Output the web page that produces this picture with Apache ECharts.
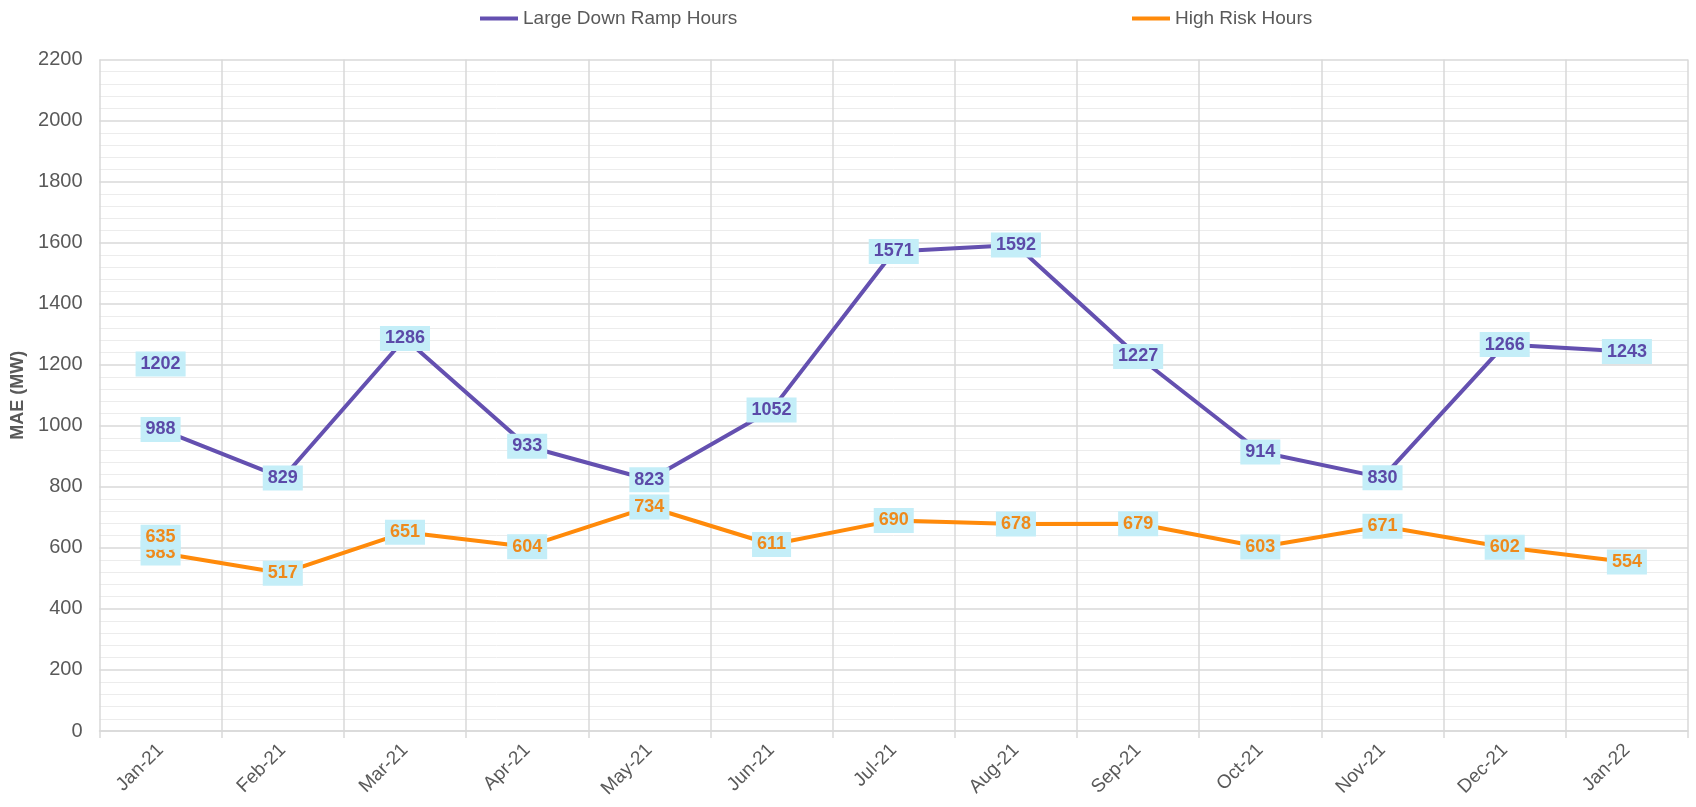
<!DOCTYPE html>
<html>
<head>
<meta charset="utf-8">
<script src="https://cdn.jsdelivr.net/npm/echarts@6/dist/echarts.min.js"></script>
<style>
  html, body { margin: 0; padding: 0; background: #fff; }
  #chart { width: 1696px; height: 807px; }
</style>
</head>
<body>
<div id="chart"></div>
<script>
  // categories and values
  const months = ['Jan-21', 'Feb-21', 'Mar-21', 'Apr-21', 'May-21', 'Jun-21', 'Jul-21',
    'Aug-21', 'Sep-21', 'Oct-21', 'Nov-21', 'Dec-21', 'Jan-22'];
  const largeDownRamp = [988, 829, 1286, 933, 823, 1052, 1571, 1592, 1227, 914, 830, 1266, 1243];
  const highRisk = [583, 517, 651, 604, 734, 611, 690, 678, 679, 603, 671, 602, 554];
  // stray labels that sit at Jan-21 without a line
  const strayPurple = [1202];
  const strayOrange = [635];
  const yTicks = { min: 0, max: 2200, interval: 200 };

  const purple = '#6450B0';
  const orange = '#FF8A0A';
  const labelBg = '#C4EEF8';
  const font = 'Liberation Sans, Arial, sans-serif';

  function valueLabel(color) {
    return {
      show: true,
      position: 'inside',
      color: color,
      fontFamily: font,
      fontWeight: 'bold',
      fontSize: 18,
      backgroundColor: labelBg,
      padding: [4, 5, 3, 5]
    };
  }

  const chart = echarts.init(document.getElementById('chart'));
  const option = {
    animation: false,
    textStyle: { fontFamily: font },
    legend: [
      {
        left: 475, top: 4,
        data: ['Large Down Ramp Hours'],
        icon: 'rect', itemWidth: 38, itemHeight: 4, itemGap: 5,
        textStyle: { fontSize: 19, color: '#595959', fontFamily: font }
      },
      {
        left: 1127, top: 4,
        data: ['High Risk Hours'],
        icon: 'rect', itemWidth: 38, itemHeight: 4, itemGap: 5,
        textStyle: { fontSize: 19, color: '#595959', fontFamily: font }
      }
    ],
    grid: { left: 99.5, right: 8, top: 59.5, bottom: 76 },
    xAxis: {
      type: 'category',
      data: months,
      boundaryGap: true,
      axisLine: { lineStyle: { color: '#d9d9d9', width: 1.5 } },
      axisTick: { show: true, length: 7, lineStyle: { color: '#d9d9d9', width: 1.5 } },
      splitLine: { show: true, lineStyle: { color: '#d9d9d9', width: 1.5 } },
      axisLabel: { rotate: 45, fontSize: 19, color: '#595959', margin: 16, interval: 0 }
    },
    yAxis: {
      type: 'value',
      min: yTicks.min, max: yTicks.max, interval: yTicks.interval,
      name: 'MAE (MW)',
      nameLocation: 'middle',
      nameGap: 72,
      nameTextStyle: { fontSize: 18, fontWeight: 'bold', color: '#595959' },
      axisLine: { show: false },
      axisTick: { show: false },
      axisLabel: { fontSize: 20, color: '#595959', margin: 17, formatter: v => String(v) },
      splitLine: { lineStyle: { color: '#d9d9d9', width: 1.5 } },
      minorTick: { show: false, splitNumber: 5 },
      minorSplitLine: { show: true, lineStyle: { color: '#ececec', width: 1 } }
    },
    series: [
      {
        name: 'Large Down Ramp Hours',
        type: 'line',
        data: largeDownRamp,
        symbol: 'circle',
        symbolSize: 0,
        showSymbol: true,
        color: purple,
        lineStyle: { color: purple, width: 4 },
        label: valueLabel('#5B4AA8'),
        z: 3
      },
      {
        name: 'High Risk Hours',
        type: 'line',
        data: highRisk,
        symbol: 'circle',
        symbolSize: 0,
        showSymbol: true,
        color: orange,
        lineStyle: { color: orange, width: 4 },
        label: valueLabel('#EE8A1C'),
        z: 4
      },
      {
        name: 'stray purple',
        type: 'scatter',
        data: strayPurple,
        symbolSize: 0,
        itemStyle: { opacity: 1 },
        label: valueLabel('#5B4AA8'),
        z: 5
      },
      {
        name: 'stray orange',
        type: 'scatter',
        data: strayOrange,
        symbolSize: 0,
        itemStyle: { opacity: 1 },
        label: valueLabel('#EE8A1C'),
        z: 5
      }
    ]
  };
  chart.setOption(option);
</script>
</body>
</html>
